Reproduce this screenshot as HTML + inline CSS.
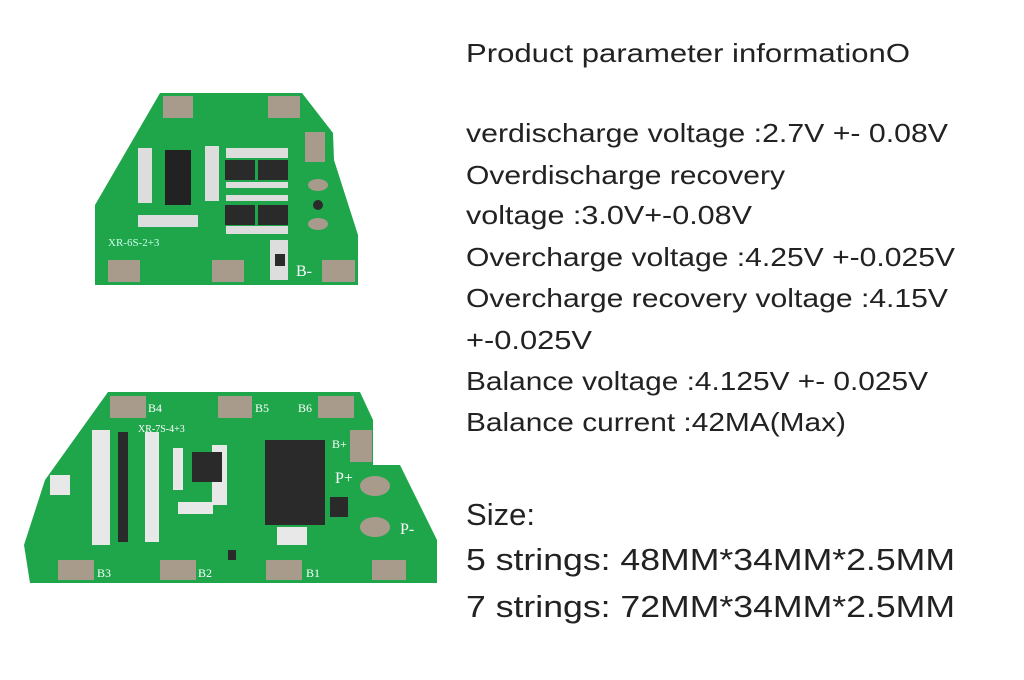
<!DOCTYPE html>
<html><head><style>
html,body{margin:0;padding:0;background:#fff;}
svg{display:block}
</style></head><body>
<svg width="1024" height="680" viewBox="0 0 1024 680" xmlns="http://www.w3.org/2000/svg">
<rect width="1024" height="680" fill="#fff"/>
<!-- Board 1 -->
<polygon points="160,93 302,93 333,133 334,160 358,235 358,285 95,285 95,205" fill="#1fa64a"/>
<g fill="#a99b8c">
<rect x="163" y="96" width="30" height="22"/><rect x="268" y="96" width="32" height="22"/>
<rect x="305" y="132" width="20" height="30"/>
<rect x="108" y="260" width="32" height="22"/><rect x="212" y="260" width="32" height="22"/><rect x="322" y="260" width="33" height="22"/>
<ellipse cx="318" cy="185" rx="10" ry="6"/><ellipse cx="318" cy="224" rx="10" ry="6"/>
</g>
<rect x="165" y="150" width="26" height="55" fill="#222"/>
<g fill="#ddd"><rect x="138" y="148" width="14" height="55"/><rect x="205" y="146" width="14" height="55"/><rect x="138" y="215" width="60" height="12"/><rect x="270" y="240" width="18" height="40"/><rect x="226" y="148" width="62" height="10"/><rect x="226" y="182" width="62" height="6"/><rect x="226" y="195" width="62" height="6"/><rect x="226" y="226" width="62" height="8"/></g>
<g fill="#2a2a2a"><rect x="225" y="160" width="30" height="20"/><rect x="258" y="160" width="30" height="20"/><rect x="225" y="205" width="30" height="20"/><rect x="258" y="205" width="30" height="20"/><rect x="275" y="254" width="10" height="12"/><circle cx="318" cy="205" r="5"/></g>
<text x="108" y="246" font-family="Liberation Serif,serif" font-size="11" fill="#cfe">XR-6S-2+3</text>
<text x="296" y="276" font-family="Liberation Serif,serif" font-size="16" fill="#fff">B-</text>
<!-- Board 2 -->
<polygon points="108,392 360,392 373,420 373,465 400,465 437,540 437,583 30,583 24,545 45,480" fill="#1fa64a"/>
<g fill="#a99b8c">
<rect x="110" y="396" width="36" height="22"/><rect x="218" y="396" width="34" height="22"/><rect x="318" y="396" width="36" height="22"/>
<rect x="350" y="430" width="22" height="32"/>
<rect x="58" y="560" width="36" height="20"/><rect x="160" y="560" width="36" height="20"/><rect x="266" y="560" width="36" height="20"/><rect x="372" y="560" width="34" height="20"/>
<ellipse cx="375" cy="486" rx="15" ry="10"/><ellipse cx="375" cy="527" rx="15" ry="10"/>
</g>
<g fill="#e8e8e8"><rect x="92" y="430" width="18" height="115"/><rect x="145" y="432" width="14" height="110"/><rect x="277" y="527" width="30" height="18"/><rect x="50" y="475" width="20" height="20"/><rect x="173" y="448" width="10" height="42"/><rect x="178" y="502" width="35" height="12"/><rect x="212" y="445" width="15" height="60"/></g>
<g fill="#2a2a2a"><rect x="265" y="440" width="60" height="85"/><rect x="192" y="452" width="30" height="30"/><rect x="330" y="497" width="18" height="20"/><rect x="118" y="432" width="10" height="110"/><rect x="228" y="550" width="8" height="10"/></g>
<g font-family="Liberation Serif,serif" font-size="12" fill="#fff"><text x="148" y="412">B4</text><text x="255" y="412">B5</text><text x="298" y="412">B6</text><text x="332" y="448">B+</text><text x="335" y="483" font-size="16">P+</text><text x="400" y="534" font-size="16">P-</text><text x="97" y="577">B3</text><text x="198" y="577">B2</text><text x="306" y="577">B1</text><text x="138" y="432" font-size="10">XR-7S-4+3</text></g>
<!-- Text -->
<g font-family="Liberation Sans,sans-serif" fill="#222" font-size="26">
<text x="466" y="62" textLength="444" lengthAdjust="spacingAndGlyphs">Product parameter informationO</text>
<text x="466" y="142" textLength="482" lengthAdjust="spacingAndGlyphs">verdischarge voltage :2.7V +- 0.08V</text>
<text x="466" y="184" textLength="319" lengthAdjust="spacingAndGlyphs">Overdischarge recovery</text>
<text x="466" y="224" textLength="286" lengthAdjust="spacingAndGlyphs">voltage :3.0V+-0.08V</text>
<text x="466" y="266" textLength="489" lengthAdjust="spacingAndGlyphs">Overcharge voltage :4.25V +-0.025V</text>
<text x="466" y="307" textLength="482" lengthAdjust="spacingAndGlyphs">Overcharge recovery voltage :4.15V</text>
<text x="466" y="349" textLength="126" lengthAdjust="spacingAndGlyphs">+-0.025V</text>
<text x="466" y="390" textLength="462" lengthAdjust="spacingAndGlyphs">Balance voltage :4.125V +- 0.025V</text>
<text x="466" y="431" textLength="380" lengthAdjust="spacingAndGlyphs">Balance current :42MA(Max)</text>
</g>
<g font-family="Liberation Sans,sans-serif" fill="#222" font-size="31">
<text x="466" y="525" textLength="69" lengthAdjust="spacingAndGlyphs">Size:</text>
<text x="466" y="570" textLength="489" lengthAdjust="spacingAndGlyphs">5 strings: 48MM*34MM*2.5MM</text>
<text x="466" y="617" textLength="489" lengthAdjust="spacingAndGlyphs">7 strings: 72MM*34MM*2.5MM</text>
</g>
</svg>
</body></html>
